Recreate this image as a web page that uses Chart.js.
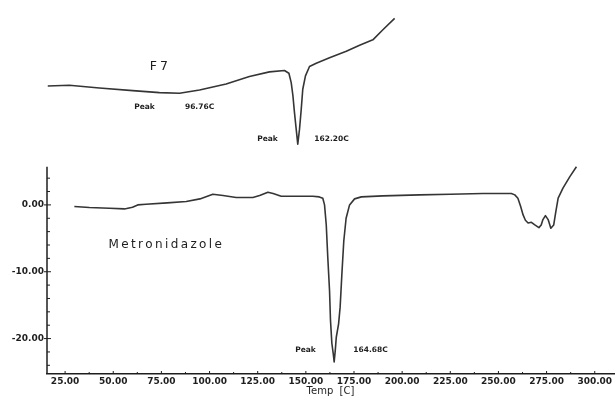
<!DOCTYPE html>
<html>
<head>
<meta charset="utf-8">
<script src="https://cdn.jsdelivr.net/npm/chart.js@4.4.1/dist/chart.umd.min.js"></script>
<style>
  html, body { margin: 0; padding: 0; background: #fff; }
</style>
</head>
<body>
<canvas id="dsc" width="616" height="397"></canvas>
<script>
// Metronidazole DSC trace (Temp C, heat flow)
const metroTemp = [29.8, 37.6, 48, 55.8, 60, 62.7, 67, 78, 87.9, 95, 101.7, 107, 113.8, 122.5, 126, 130.3, 133, 137.2, 145, 153.6,
  157, 158.8, 159.7, 160.6, 161.4, 162.3, 162.8, 163.5, 164.2, 164.7, 165.3, 165.8, 167, 167.8, 168.7, 169.7, 170.9, 172.7,
  175.3, 178.8, 190, 209, 225, 241.9, 256.7, 258.5, 260.1, 261.5, 262.8, 264, 265.4, 267.1, 268.9, 271, 272.2, 273.1, 274.4,
  275.8, 277.2, 278.7, 279.8, 281, 283.5, 287, 290.5];
const metroHeat = [-0.25, -0.4, -0.5, -0.6, -0.35, 0, 0.1, 0.3, 0.5, 0.9, 1.6, 1.4, 1.1, 1.1, 1.4, 1.9, 1.7, 1.3, 1.3, 1.3,
  1.2, 1.0, 0, -3, -7.9, -12.8, -17.3, -20.7, -22.2, -23.5, -21.7, -19.8, -17.8, -15.3, -10.4, -5.4, -2.0, 0,
  0.9, 1.2, 1.35, 1.5, 1.6, 1.7, 1.7, 1.5, 1.0, -0.2, -1.5, -2.3, -2.7, -2.6, -3.0, -3.4, -3.0, -2.2, -1.6,
  -2.2, -3.5, -3.0, -1.0, 1.0, 2.5, 4.2, 5.7];

// F7 trace, drawn offset above the Metronidazole trace
const f7Temp = [16, 27.2, 42.8, 60.1, 74, 84.4, 94.8, 108.6, 120.7, 131.1, 138.9, 141.2, 142.4, 143.3, 144.1, 145, 145.8,
  146.7, 147.6, 148.4, 149.8, 151.9, 155.4, 162.3, 171, 177.9, 184.8, 190, 196.1];
const f7Heat = [17.8, 17.9, 17.5, 17.1, 16.8, 16.7, 17.2, 18.1, 19.2, 19.9, 20.1, 19.7, 18.3, 16.3, 13.8, 11.3, 9.1,
  11.3, 14.3, 17.3, 19.3, 20.7, 21.2, 22.0, 23.0, 23.9, 24.7, 26.2, 27.9];

const xTicks = [25, 50, 75, 100, 125, 150, 175, 200, 225, 250, 275, 300];
const xMinorTicks = [37.5, 62.5, 87.5, 112.5, 137.5, 162.5, 187.5, 212.5, 237.5, 262.5, 287.5];
const yTicks = [0, -10, -20];
const yMinorTicks = [4, 2, -2, -4, -6, -8, -12, -14, -16, -18, -22, -24];
const yAxisTop = 5.7;

// text notes placed in data units
const notes = [
  { text: 'F7', x: 74.5, y: 20.6, font: '12.5px "DejaVu Sans"', spacing: '3px', align: 'center' },
  { text: 'Metronidazole', x: 47.5, y: -6.0, font: '12px "DejaVu Sans"', spacing: '2.4px', align: 'left' },
  { text: 'Peak', x: 66.2, y: 14.7, font: 'bold 7.5px "DejaVu Sans"', spacing: '0px', align: 'center' },
  { text: '96.76C', x: 94.8, y: 14.7, font: 'bold 7.5px "DejaVu Sans"', spacing: '0px', align: 'center' },
  { text: 'Peak', x: 130.1, y: 9.85, font: 'bold 7.5px "DejaVu Sans"', spacing: '0px', align: 'center' },
  { text: '162.20C', x: 163.3, y: 9.85, font: 'bold 7.5px "DejaVu Sans"', spacing: '0px', align: 'center' },
  { text: 'Peak', x: 149.8, y: -21.7, font: 'bold 7.5px "DejaVu Sans"', spacing: '0px', align: 'center' },
  { text: '164.68C', x: 183.6, y: -21.7, font: 'bold 7.5px "DejaVu Sans"', spacing: '0px', align: 'center' },
];

const ink = '#1e1e1e';

const dscDecor = {
  id: 'dscDecor',
  afterDraw(chart) {
    const { ctx, chartArea, scales: { x, y } } = chart;
    const left = chartArea.left;
    const bottom = chartArea.bottom;
    ctx.save();
    ctx.strokeStyle = ink;
    ctx.lineWidth = 1.5;
    ctx.beginPath();
    ctx.moveTo(left, y.getPixelForValue(yAxisTop));
    ctx.lineTo(left, bottom);
    ctx.stroke();

    ctx.lineWidth = 1;
    const seg = (x1, y1, x2, y2) => {
      ctx.beginPath();
      ctx.moveTo(x1, y1);
      ctx.lineTo(x2, y2);
      ctx.stroke();
    };
    yTicks.forEach((v) => { const p = y.getPixelForValue(v); seg(left - 3, p, left + 4, p); });
    yMinorTicks.forEach((v) => { const p = y.getPixelForValue(v); seg(left, p, left + 3, p); });
    xTicks.forEach((v) => { const p = x.getPixelForValue(v); seg(p, bottom, p, bottom - 3); });
    xMinorTicks.forEach((v) => { const p = x.getPixelForValue(v); seg(p, bottom, p, bottom - 2); });

    ctx.fillStyle = ink;
    ctx.textBaseline = 'middle';
    notes.forEach((n) => {
      ctx.font = n.font;
      ctx.letterSpacing = n.spacing;
      ctx.textAlign = n.align;
      ctx.fillText(n.text, x.getPixelForValue(n.x), y.getPixelForValue(n.y));
    });
    ctx.restore();
  },
};

const toPoints = (xs, ys) => xs.map((t, i) => ({ x: t, y: ys[i] }));

const config = {
  type: 'line',
  data: {
    datasets: [
      {
        label: 'F7',
        data: toPoints(f7Temp, f7Heat),
        borderColor: '#353535',
        borderWidth: 1.6,
        borderJoinStyle: 'round',
        pointRadius: 0,
        tension: 0,
      },
      {
        label: 'Metronidazole',
        data: toPoints(metroTemp, metroHeat),
        borderColor: '#353535',
        borderWidth: 1.6,
        borderJoinStyle: 'round',
        pointRadius: 0,
        tension: 0,
      },
    ],
  },
  options: {
    responsive: false,
    animation: false,
    devicePixelRatio: 1,
    layout: { padding: { top: 5, right: 2, left: 0, bottom: 0 } },
    plugins: {
      legend: { display: false },
      tooltip: { enabled: false },
    },
    scales: {
      x: {
        type: 'linear',
        min: 15.6,
        max: 310,
        afterFit: (scale) => { scale.height = 23; },
        afterBuildTicks: (scale) => { scale.ticks = xTicks.map((v) => ({ value: v })); },
        grid: { display: false, drawTicks: false },
        border: { display: true, color: ink, width: 1.5 },
        ticks: {
          padding: 2,
          maxRotation: 0,
          autoSkip: false,
          color: ink,
          font: { family: 'DejaVu Sans', size: 9, weight: 'bold' },
          callback: (v) => Number(v).toFixed(2),
        },
        title: {
          display: true,
          text: 'Temp  [C]',
          color: ink,
          padding: 0,
          font: { family: 'DejaVu Sans', size: 10 },
        },
      },
      y: {
        type: 'linear',
        min: -25.3,
        max: 29.4,
        afterFit: (scale) => { scale.width = 47; },
        afterBuildTicks: (scale) => { scale.ticks = yTicks.map((v) => ({ value: v })); },
        grid: { display: false, drawTicks: false },
        border: { display: false },
        ticks: {
          padding: 3,
          autoSkip: false,
          color: ink,
          font: { family: 'DejaVu Sans', size: 9, weight: 'bold' },
          callback: (v) => Number(v).toFixed(2),
        },
      },
    },
  },
  plugins: [dscDecor],
};

new Chart(document.getElementById('dsc').getContext('2d'), config);
</script>
</body>
</html>
